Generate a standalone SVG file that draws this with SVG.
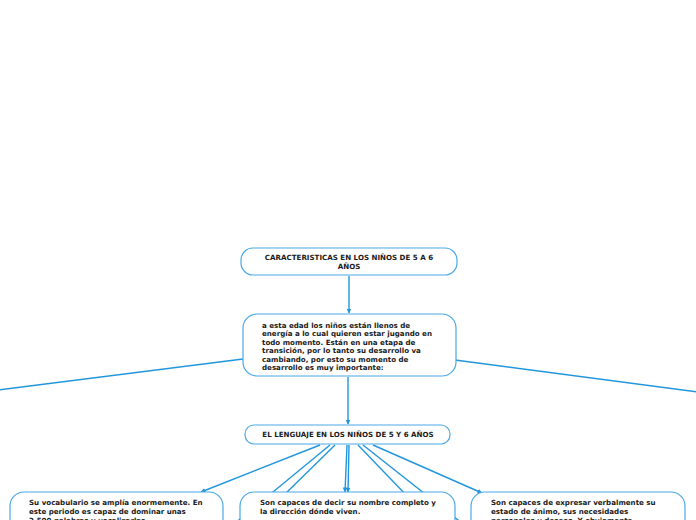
<svg xmlns="http://www.w3.org/2000/svg" width="696" height="520" viewBox="0 0 696 520">
<style>
.box{fill:#fff;stroke:#4aa8e8;stroke-width:1.2}
.ln{stroke:#2196dd;stroke-width:1.4;fill:none}
.t{font-family:"DejaVu Sans",Verdana,sans-serif;font-weight:bold;font-size:7.1px;fill:#1a1a1a}
.c{text-anchor:middle}
</style>
<defs>
<marker id="ah" viewBox="0 0 10 10" refX="9" refY="5" markerWidth="5" markerHeight="5" orient="auto" markerUnits="userSpaceOnUse">
<path d="M0,0 L10,5 L0,10 z" fill="#2196dd"/>
</marker>
</defs>
<rect width="696" height="520" fill="#fff"/>
<g id="connectors">
<line class="ln" x1="349" y1="276" x2="349" y2="313" marker-end="url(#ah)"/>
<line class="ln" x1="348" y1="377" x2="348" y2="424" marker-end="url(#ah)"/>
<line class="ln" x1="243" y1="359" x2="-10" y2="391"/>
<line class="ln" x1="455" y1="360" x2="706" y2="393"/>
<line class="ln" x1="320" y1="445" x2="201" y2="492" marker-end="url(#ah)"/>
<line class="ln" x1="330" y1="445" x2="200" y2="552"/>
<line class="ln" x1="335" y1="445" x2="228" y2="550"/>
<line class="ln" x1="347" y1="445" x2="345" y2="492" marker-end="url(#ah)"/>
<line class="ln" x1="349" y1="445" x2="348" y2="492" marker-end="url(#ah)"/>
<line class="ln" x1="358" y1="445" x2="461" y2="552"/>
<line class="ln" x1="363" y1="445" x2="496" y2="550"/>
<line class="ln" x1="373" y1="445" x2="482" y2="493" marker-end="url(#ah)"/>
</g>
<g id="n1">
<rect class="box" x="241" y="248" width="216" height="27" rx="12"/>
<text class="t c" x="349" y="260">CARACTERISTICAS EN LOS NIÑOS DE 5 A 6</text>
<text class="t c" x="349" y="269">AÑOS</text>
</g>
<g id="n2">
<rect class="box" x="243" y="314" width="213" height="62" rx="14"/>
<text class="t" x="262" y="327.5">a esta edad los niños están llenos de</text>
<text class="t" x="262" y="336">energía a lo cual quieren estar jugando en</text>
<text class="t" x="262" y="344.5">todo momento. Están en una etapa de</text>
<text class="t" x="262" y="353">transición, por lo tanto su desarrollo va</text>
<text class="t" x="262" y="361.5">cambiando, por esto su momento de</text>
<text class="t" x="262" y="370">desarrollo es muy importante:</text>
</g>
<g id="n3">
<rect class="box" x="245" y="425" width="205" height="19" rx="9"/>
<text class="t c" x="348" y="437">EL LENGUAJE EN LOS NIÑOS DE 5 Y 6 AÑOS</text>
</g>
<g id="n4">
<rect class="box" x="10" y="492" width="213" height="45" rx="14"/>
<text class="t" x="29" y="505">Su vocabulario se amplía enormemente. En</text>
<text class="t" x="29" y="514">este periodo es capaz de dominar unas</text>
<text class="t" x="29" y="523">2.500 palabras y vocalizarlas</text>
</g>
<g id="n5">
<rect class="box" x="240" y="492" width="215" height="40" rx="14"/>
<text class="t" x="260" y="505">Son capaces de decir su nombre completo y</text>
<text class="t" x="260" y="514">la dirección dónde viven.</text>
</g>
<g id="n6">
<rect class="box" x="471" y="492" width="214" height="45" rx="14"/>
<text class="t" x="491" y="505">Son capaces de expresar verbalmente su</text>
<text class="t" x="491" y="514">estado de ánimo, sus necesidades</text>
<text class="t" x="491" y="523">personales y deseos. Y obviamente</text>
</g>
</svg>
